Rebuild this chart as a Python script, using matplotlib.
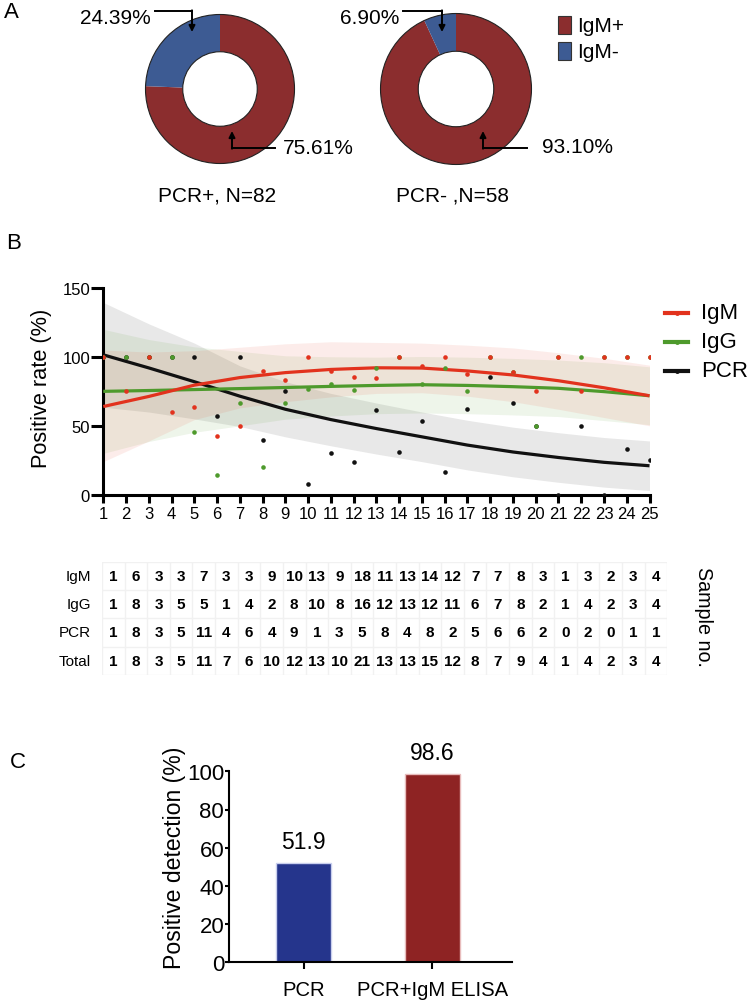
import numpy as np
import matplotlib
matplotlib.use("Agg")
import matplotlib.pyplot as plt
from matplotlib.patches import Rectangle, Circle

plt.rcParams["font.family"] = ["Liberation Sans", "DejaVu Sans"]

W, H = 750, 1003

# ---- panel A: IgM share in PCR+ / PCR- groups
pie_labels = ["IgM+", "IgM-"]
pcr_pos_share = [75.61, 24.39]
pcr_neg_share = [93.10, 6.90]
pie_titles = ["PCR+, N=82", "PCR- ,N=58"]
pie_colors = ["#8B2D2E", "#3D5B93"]

# ---- panel B: positive rate by sample day
sample_no = list(range(1, 26))
igm_rate = [100, 75, 100, 60, 63.6, 42.9, 50, 90, 83.3, 100, 90, 85.7, 84.6,
            100, 93.3, 100, 87.5, 100, 88.9, 75, 100, 75, 100, 100, 100]
igg_rate = [100, 100, 100, 100, 45.5, 14.3, 66.7, 20, 66.7, 76.9, 80, 76.2, 92.3,
            100, 80, 91.7, 75, 100, 88.9, 50, 100, 100, 100, 100, 100]
pcr_rate = [100, 100, 100, 100, 100, 57.1, 100, 40, 75, 7.7, 30, 23.8, 61.5,
            30.8, 53.3, 16.7, 62.5, 85.7, 66.7, 50, 0, 50, 0, 33.3, 25]

# fitted trend lines and their confidence bands
fit_x = [1, 3, 5, 7, 9, 11, 13, 15, 17, 19, 21, 23, 25]
igm_fit = [64, 71.3, 79.5, 85, 88.6, 90.9, 92.1, 91.9, 89.8, 86.9, 82.7, 77.6, 71.8]
igm_lo = [24, 39, 54.5, 63, 67.5, 71, 73.5, 74, 71.5, 67.5, 62, 56, 50]
igm_hi = [105, 103.5, 104.5, 107, 109.5, 111, 110.5, 110, 108.5, 106.5, 103, 99, 94]
igg_fit = [75, 75.6, 76.3, 77, 77.8, 78.6, 79.3, 79.8, 79.3, 78.4, 77.2, 74.8, 71.8]
igg_lo = [30, 38.6, 45.3, 50, 54.8, 57.1, 58.8, 59.3, 58.8, 57.9, 56.7, 53.8, 50.8]
igg_hi = [120, 112.6, 107.3, 104, 100.8, 100.1, 99.8, 100.3, 99.8, 98.9, 97.7, 95.8, 92.8]
pcr_fit = [101.5, 92, 82, 71.5, 62, 54.5, 48, 42, 36, 31, 27, 23.5, 21]
pcr_lo = [63.5, 60, 55, 49.5, 42, 35.5, 29.5, 24, 18, 13, 9, 5.5, 3]
pcr_hi = [139.5, 124, 110, 93.5, 82, 73.5, 66.5, 60, 54, 49, 45, 41.5, 39]

table_rows = ["IgM", "IgG", "PCR", "Total"]
igm_n = [1, 6, 3, 3, 7, 3, 3, 9, 10, 13, 9, 18, 11, 13, 14, 12, 7, 7, 8, 3, 1, 3, 2, 3, 4]
igg_n = [1, 8, 3, 5, 5, 1, 4, 2, 8, 10, 8, 16, 12, 13, 12, 11, 6, 7, 8, 2, 1, 4, 2, 3, 4]
pcr_n = [1, 8, 3, 5, 11, 4, 6, 4, 9, 1, 3, 5, 8, 4, 8, 2, 5, 6, 6, 2, 0, 2, 0, 1, 1]
total_n = [1, 8, 3, 5, 11, 7, 6, 10, 12, 13, 10, 21, 13, 13, 15, 12, 8, 7, 9, 4, 1, 4, 2, 3, 4]

# ---- panel C: detection rate
methods = ["PCR", "PCR+IgM ELISA"]
detection = [51.9, 98.6]


def rect(l, t, r, b):
    return [l / W, 1 - b / H, (r - l) / W, (b - t) / H]


fig = plt.figure(figsize=(W / 100, H / 100), dpi=100)

# overlay in pixel coordinates for panel letters and annotations
ov = fig.add_axes([0, 0, 1, 1], zorder=10)
ov.set_xlim(0, W)
ov.set_ylim(H, 0)
ov.axis("off")

# ---------------- A
for (cx, cy, r), share, title in [((220, 90, 76), pcr_pos_share, pie_titles[0]),
                                  ((456, 90, 77), pcr_neg_share, pie_titles[1])]:
    ax = fig.add_axes(rect(cx - r, cy - r, cx + r, cy + r))
    ax.pie(share, colors=pie_colors, startangle=90, counterclock=False,
           wedgeprops=dict(width=0.5, linewidth=0))
    ax.add_patch(Circle((0, 0), 1, fill=False, lw=0.8, ec="#222222"))
    ax.add_patch(Circle((0, 0), 0.5, fill=False, lw=0.8, ec="#222222"))
    ax.set_xlim(-1.02, 1.02)
    ax.set_ylim(-1.02, 1.02)
    ax.axis("off")
    ov.text(cx - 3, 196, title, ha="center", va="center", fontsize=15)

arrow_kw = dict(arrowstyle="-|>", lw=1.4, color="k", mutation_scale=9,
                shrinkA=0, shrinkB=0)
# PCR+ labels
ov.text(151, 18, "24.39%", ha="right", va="center", fontsize=15)
ov.plot([155, 192], [12, 12], color="k", lw=1.4)
ov.annotate("", xy=(192, 33), xytext=(192, 11.3), arrowprops=arrow_kw)
ov.text(283, 148, "75.61%", ha="left", va="center", fontsize=15)
ov.plot([275, 232], [149, 149], color="k", lw=1.4)
ov.annotate("", xy=(232, 132), xytext=(232, 149.7), arrowprops=arrow_kw)
# PCR- labels
ov.text(399, 18, "6.90%", ha="right", va="center", fontsize=15)
ov.plot([403, 442], [12, 12], color="k", lw=1.4)
ov.annotate("", xy=(442, 33), xytext=(442, 11.3), arrowprops=arrow_kw)
ov.text(542, 147, "93.10%", ha="left", va="center", fontsize=15)
ov.plot([527, 483], [149, 149], color="k", lw=1.4)
ov.annotate("", xy=(483, 132), xytext=(483, 149.7), arrowprops=arrow_kw)

# legend A
for i, (lab, col) in enumerate(zip(pie_labels, pie_colors)):
    y0 = 17 + i * 26
    ov.add_patch(Rectangle((558, y0), 13, 18, fc=col, ec="#333333", lw=0.8))
    ov.text(577, y0 + 9, lab, ha="left", va="center", fontsize=15)

ov.text(11, 12, "A", ha="center", va="center", fontsize=16)
ov.text(14, 243, "B", ha="center", va="center", fontsize=16)
ov.text(18, 763, "C", ha="center", va="center", fontsize=16)

# ---------------- B
axb = fig.add_axes(rect(103.3, 289, 649.5, 495.7))
series = [("PCR", pcr_rate, pcr_fit, pcr_lo, pcr_hi, "#111111", (0.47, 0.47, 0.47, 0.17)),
          ("IgG", igg_rate, igg_fit, igg_lo, igg_hi, "#4E9A2C", (0.35, 0.62, 0.2, 0.10)),
          ("IgM", igm_rate, igm_fit, igm_lo, igm_hi, "#E2321D", (0.92, 0.35, 0.25, 0.11))]
for name, vals, fit, lo, hi, col, band in series:
    axb.fill_between(fit_x, lo, hi, color=band, lw=0, zorder=1)
for name, vals, fit, lo, hi, col, band in series:
    axb.plot(fit_x, fit, color=col, lw=2.3, zorder=3, solid_capstyle="butt")
    axb.plot(sample_no, vals, "o", color=col, ms=3.3, mec="none", zorder=4)

axb.set_xlim(1, 25)
axb.set_ylim(0, 150)
axb.set_xticks(sample_no)
axb.set_yticks([0, 50, 100, 150])
axb.tick_params(axis="y", length=9, width=2.2, pad=0.5, labelsize=12)
axb.tick_params(axis="x", length=5.5, width=2.2, pad=2.5, labelsize=12)
for side in ["top", "right"]:
    axb.spines[side].set_visible(False)
for side in ["left", "bottom"]:
    axb.spines[side].set_linewidth(2.2)
fig.text(42 / W, 1 - 388 / H, "Positive rate (%)", rotation=90,
         ha="center", va="center", fontsize=15.7)

# legend B
for i, (name, col) in enumerate([("IgM", "#E2321D"), ("IgG", "#4E9A2C"), ("PCR", "#111111")]):
    y = 314 + i * 29
    ov.plot([665, 688], [y, y], color=col, lw=3)
    ov.plot([676.5], [y], "o", color=col, ms=2.5)
    ov.text(701, y - 1, name, ha="left", va="center", fontsize=16)

# table
axt = fig.add_axes(rect(102, 562.5, 667.3, 675.9))
axt.set_xlim(0.5, 25.5)
axt.set_ylim(4.5, 0.5)
axt.axis("off")
for k in range(26):
    axt.plot([k + 0.5, k + 0.5], [0.5, 4.5], color="#f1f1f1", lw=1)
for k in range(5):
    axt.plot([0.5, 25.5], [k + 0.5, k + 0.5], color="#f1f1f1", lw=1)
for r, (lab, counts) in enumerate(zip(table_rows, [igm_n, igg_n, pcr_n, total_n]), start=1):
    axt.text(0.0, r, lab, ha="right", va="center", fontsize=11, clip_on=False)
    for i, c in zip(sample_no, counts):
        axt.text(i, r, str(c), ha="center", va="center", fontsize=11,
                 fontweight="bold", family=["Liberation Sans Narrow", "Liberation Sans"])
ov.text(703, 617, "Sample no.", rotation=270, ha="center", va="center", fontsize=14.2)

# ---------------- C
axc = fig.add_axes(rect(229, 772.3, 512.3, 963.3))
axc.bar([0, 1], detection, width=0.426, color=["#25358C", "#8E2323"],
        edgecolor=["#c9cfee", "#e8bcbc"], linewidth=1)
for i, v in enumerate(detection):
    axc.text(i, v + 11.5, f"{v}", ha="center", va="center", fontsize=16.5, clip_on=False)
axc.set_xlim(-0.58, 1.62)
axc.set_ylim(0, 100)
axc.set_xticks([0, 1])
axc.set_xticklabels(methods)
axc.set_yticks(range(0, 101, 20))
axc.tick_params(axis="y", length=3, width=1.5, pad=0.5, labelsize=16)
axc.tick_params(axis="x", length=5, width=1.5, pad=8, labelsize=14.6)
for side in ["top", "right"]:
    axc.spines[side].set_visible(False)
for side in ["left", "bottom"]:
    axc.spines[side].set_linewidth(1.5)
fig.text(175 / W, 1 - 858 / H, "Positive detection (%)", rotation=90,
         ha="center", va="center", fontsize=16.6)

fig.savefig("out.png", dpi=100)
